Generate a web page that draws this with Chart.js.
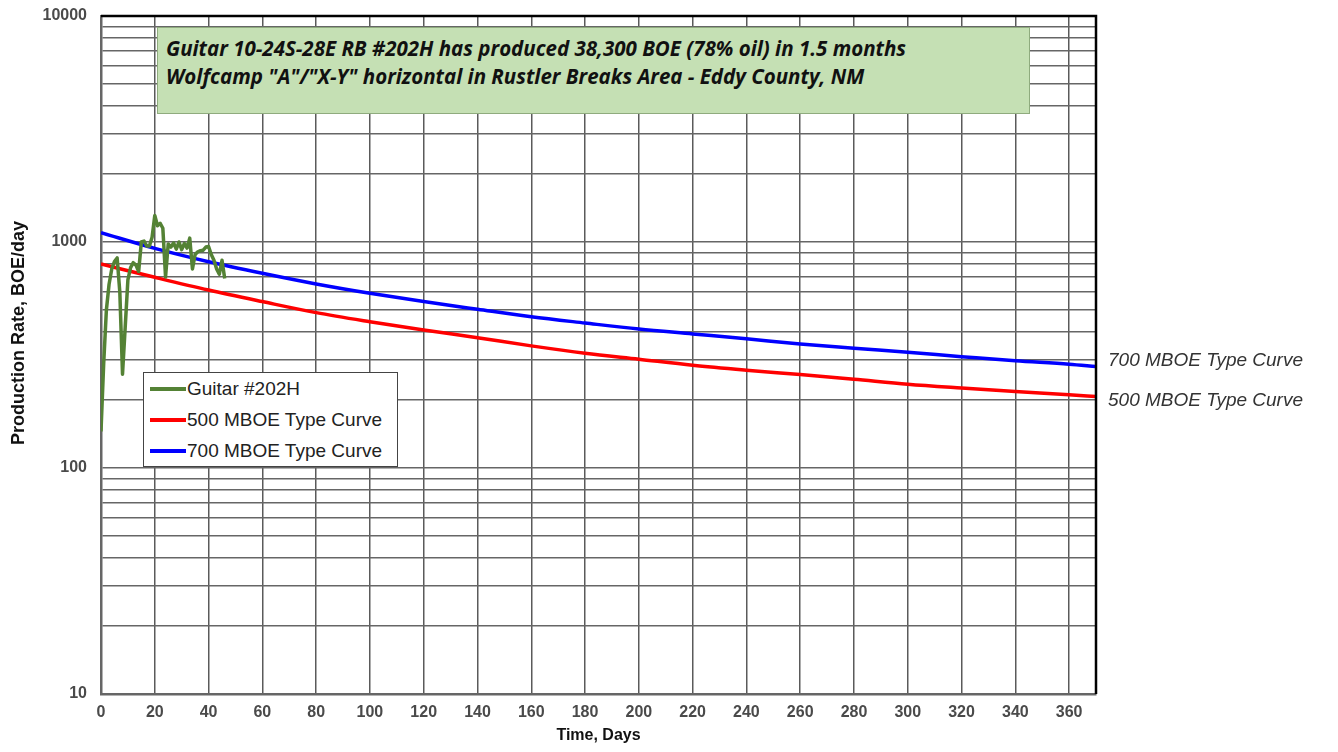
<!DOCTYPE html>
<html>
<head>
<meta charset="utf-8">
<script src="https://cdn.jsdelivr.net/npm/chart.js@4.4.1/dist/chart.umd.min.js"></script>
<style>
html,body{margin:0;padding:0;background:#fff;}
#wrap{position:relative;width:1338px;height:752px;overflow:hidden;}
#c{position:absolute;left:0;top:0;}
#titlebox{position:absolute;left:157px;top:27px;width:873px;height:87px;box-sizing:border-box;background:#c5e0b4;border:1px solid #8fab7e;font-family:"Open Sans",Lato,sans-serif;font-style:italic;font-weight:bold;font-size:20.5px;color:#111;padding:6px 0 0 8px;line-height:28px;white-space:nowrap;}
#legend{position:absolute;left:143px;top:372px;width:255px;height:95px;box-sizing:border-box;background:#fff;border:1.5px solid #444;font-family:"Liberation Sans",Arial,sans-serif;font-size:19px;color:#222;}
.li{position:absolute;left:0;height:30px;display:flex;align-items:center;white-space:nowrap;}
.sw{display:inline-block;width:36px;height:4px;margin-left:6px;margin-right:1px;}
.rl{position:absolute;left:1108px;font-family:"Liberation Sans",Arial,sans-serif;font-style:italic;font-size:19px;color:#333;white-space:nowrap;line-height:22px;}
</style>
</head>
<body>
<div id="wrap">
<canvas id="c" width="1338" height="752"></canvas>
<div id="titlebox"></div>
<div id="legend"></div>
<div class="rl" id="rl700" style="top:349px;"></div>
<div class="rl" id="rl500" style="top:389px;"></div>
</div>
<script>
// ---------- data ----------
const titleLines = [
  'Guitar 10-24S-28E RB #202H has produced 38,300 BOE (78% oil) in 1.5 months',
  'Wolfcamp "A"/"X-Y" horizontal in Rustler Breaks Area - Eddy County, NM'
];
const seriesNames = ['Guitar #202H', '500 MBOE Type Curve', '700 MBOE Type Curve'];
const seriesColors = ['#548235', '#ff0000', '#0000ff'];

const guitarDays = [0,1,2,3,4,5,6,7,8,9,10,11,12,13,14,15,16,17,18,19,20,21,22,23,24,25,26,27,28,29,30,31,32,33,34,35,36,37,38,39,40,41,42,43,44,45,46];
const guitarRate = [145,290,500,650,760,820,850,600,260,420,680,770,810,790,740,1000,1010,960,960,1050,1310,1180,1210,1150,700,980,950,990,930,1000,925,985,940,1040,760,880,905,915,920,950,955,880,830,760,720,830,690];

const typeDays = [0,20,40,60,80,100,120,140,160,180,200,220,240,260,280,300,320,340,360,370];
const curve500 = [799,698,613,545,487,444,408,377,347,322,303,285,271,259,247,235,226,218,211,207];
const curve700 = [1099,937,818,727,652,593,545,504,467,438,412,392,373,354,339,325,311,298,288,281];

const xTickValues = [0,20,40,60,80,100,120,140,160,180,200,220,240,260,280,300,320,340,360];
const yDecades = [10,100,1000];
const yMultipliers = [1,2,3,4,5,6,7,8,9];
const yLabelValues = [10,100,1000,10000];

const xTitle = 'Time, Days';
const yTitle = 'Production Rate, BOE/day';

// ---------- html text ----------
document.getElementById('titlebox').innerHTML = titleLines.map(t => '<div>' + t.replace(/&/g,'&amp;').replace(/</g,'&lt;') + '</div>').join('');
const lg = document.getElementById('legend');
seriesNames.forEach((n, i) => {
  const d = document.createElement('div');
  d.className = 'li';
  d.style.top = (1 + i * 31) + 'px';
  d.innerHTML = '<span class="sw" style="background:' + seriesColors[i] + '"></span><span>' + n + '</span>';
  lg.appendChild(d);
});
document.getElementById('rl700').textContent = seriesNames[2];
document.getElementById('rl500').textContent = seriesNames[1];

// ---------- chart ----------
const yTickValues = [];
yDecades.forEach(d => yMultipliers.forEach(m => yTickValues.push(d * m)));
yTickValues.push(10000);

const framePlugin = {
  id: 'frame',
  afterDraw(chart) {
    const a = chart.chartArea, ctx = chart.ctx;
    ctx.save();
    ctx.strokeStyle = '#000';
    ctx.lineWidth = 2.5;
    ctx.beginPath();
    ctx.moveTo(a.left, a.top);
    ctx.lineTo(a.right, a.top);
    ctx.lineTo(a.right, a.bottom);
    ctx.stroke();
    // y-axis title, placed as in the reference
    ctx.translate(19, 333);
    ctx.rotate(-Math.PI / 2);
    ctx.fillStyle = '#111';
    ctx.font = 'bold 18px "Liberation Sans", Arial, sans-serif';
    ctx.textAlign = 'center';
    ctx.textBaseline = 'middle';
    ctx.fillText(yTitle, 0, 0);
    ctx.restore();
  }
};

const tickFont = {family: '"Liberation Sans", Arial, sans-serif', size: 16, weight: 'bold'};

new Chart(document.getElementById('c'), {
  type: 'line',
  data: {
    datasets: [
      {label: seriesNames[0], data: guitarDays.map((d, i) => ({x: d, y: guitarRate[i]})), borderColor: seriesColors[0], borderWidth: 3.5, pointRadius: 0, tension: 0, borderJoinStyle: 'round'},
      {label: seriesNames[1], data: typeDays.map((d, i) => ({x: d, y: curve500[i]})), borderColor: seriesColors[1], borderWidth: 3.5, pointRadius: 0, cubicInterpolationMode: 'monotone'},
      {label: seriesNames[2], data: typeDays.map((d, i) => ({x: d, y: curve700[i]})), borderColor: seriesColors[2], borderWidth: 3.5, pointRadius: 0, cubicInterpolationMode: 'monotone'}
    ]
  },
  options: {
    responsive: false,
    animation: false,
    layout: {padding: {top: 16, right: 242, bottom: 0, left: 0}},
    plugins: {legend: {display: false}, tooltip: {enabled: false}},
    scales: {
      x: {
        type: 'linear', min: 0, max: 370,
        afterBuildTicks: s => { s.ticks = xTickValues.map(v => ({value: v})); },
        afterFit: s => { s.height = 58; },
        ticks: {font: tickFont, color: '#4a4a4a', padding: 9, maxRotation: 0, autoSkip: false},
        grid: {color: '#5a5a5a', lineWidth: 1.5, drawTicks: false},
        border: {color: '#666', width: 2.5},
        title: {display: true, text: xTitle, font: {family: '"Liberation Sans", Arial, sans-serif', size: 16, weight: 'bold'}, color: '#111', padding: {top: 0, bottom: 7}}
      },
      y: {
        type: 'logarithmic', min: 10, max: 10000,
        afterBuildTicks: s => { s.ticks = yTickValues.map(v => ({value: v})); },
        afterFit: s => { s.width = 101; s.paddingTop = 0; s.paddingBottom = 0; },
        ticks: {font: tickFont, color: '#4a4a4a', padding: 14, autoSkip: false,
          callback: v => yLabelValues.includes(v) ? String(v) : ''},
        grid: {color: '#666', lineWidth: 1.5, drawTicks: false},
        border: {color: '#666', width: 2.5},
        title: {display: false, text: yTitle}
      }
    }
  },
  plugins: [framePlugin]
});
</script>
</body>
</html>
